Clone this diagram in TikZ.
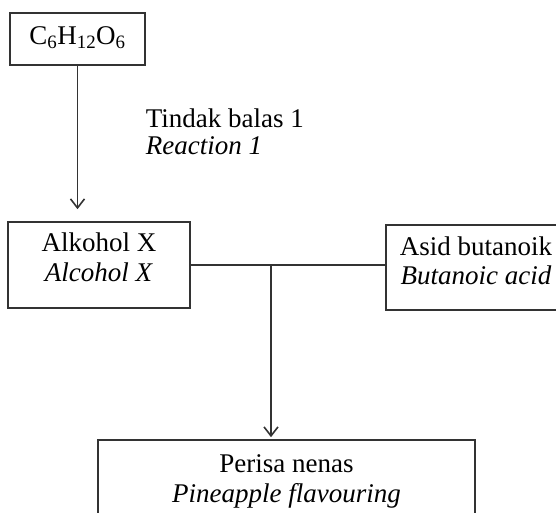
\documentclass[tikz,border=0pt]{standalone}
\usepackage{fontspec}
\setmainfont{Liberation Serif}
\usetikzlibrary{arrows.meta}
\newcommand{\boxlines}[2][0pt]{\raisebox{#1}[\height][\depth]{%
  \begin{tabular}{@{}c@{}}#2\end{tabular}}}

\begin{document}
\begin{tikzpicture} [
  x=1pt, y=-1pt,
  >={Straight Barb[length=9pt,width=14pt]},
  line width=1.6pt,
  every node/.style={font=\fontsize{27}{29.5}\selectfont},
  every edge/.style={draw=black!80},
  main node/.style={rectangle,draw=black!80,inner sep=0pt,align=center},
  ]

  \useasboundingbox (0,0) rectangle (556,513);
  \clip (0,0) rectangle (556,513);

  \node[main node, minimum width=135pt, minimum height=52pt] (glc) at (77.5,39)
    {\boxlines{C\textsubscript{6}H\textsubscript{12}O\textsubscript{6}}};
  \node[main node, minimum width=182pt, minimum height=86pt] (alc) at (99,265)
    {\boxlines[4.5pt]{Alkohol X\\\textit{Alcohol X}}};
  \node[main node, minimum width=180pt, minimum height=85pt] (asd) at (476,267.5)
    {\boxlines[3.6pt]{Asid butanoik\\\textit{Butanoic acid}}};
  \node[main node, minimum width=377pt, minimum height=83pt] (per) at (286.5,481.5)
    {\boxlines{Perisa nenas\\\textit{Pineapple flavouring}}};
  \node[anchor=west, inner sep=0pt] (rxn) at (145,134.6)
    {\begin{tabular}{@{}l@{}}Tindak balas 1\\[-2.5pt]\textit{Reaction 1}\end{tabular}};
  \coordinate (jn) at (271,265);

  \path
    (glc) edge[->, shorten >=12pt] (glc.south |- alc.north)
    (alc.east) edge (alc.east -| asd.west)
    (jn) edge[->, shorten >=2pt] (jn |- per.north);
\end{tikzpicture}
\end{document}
